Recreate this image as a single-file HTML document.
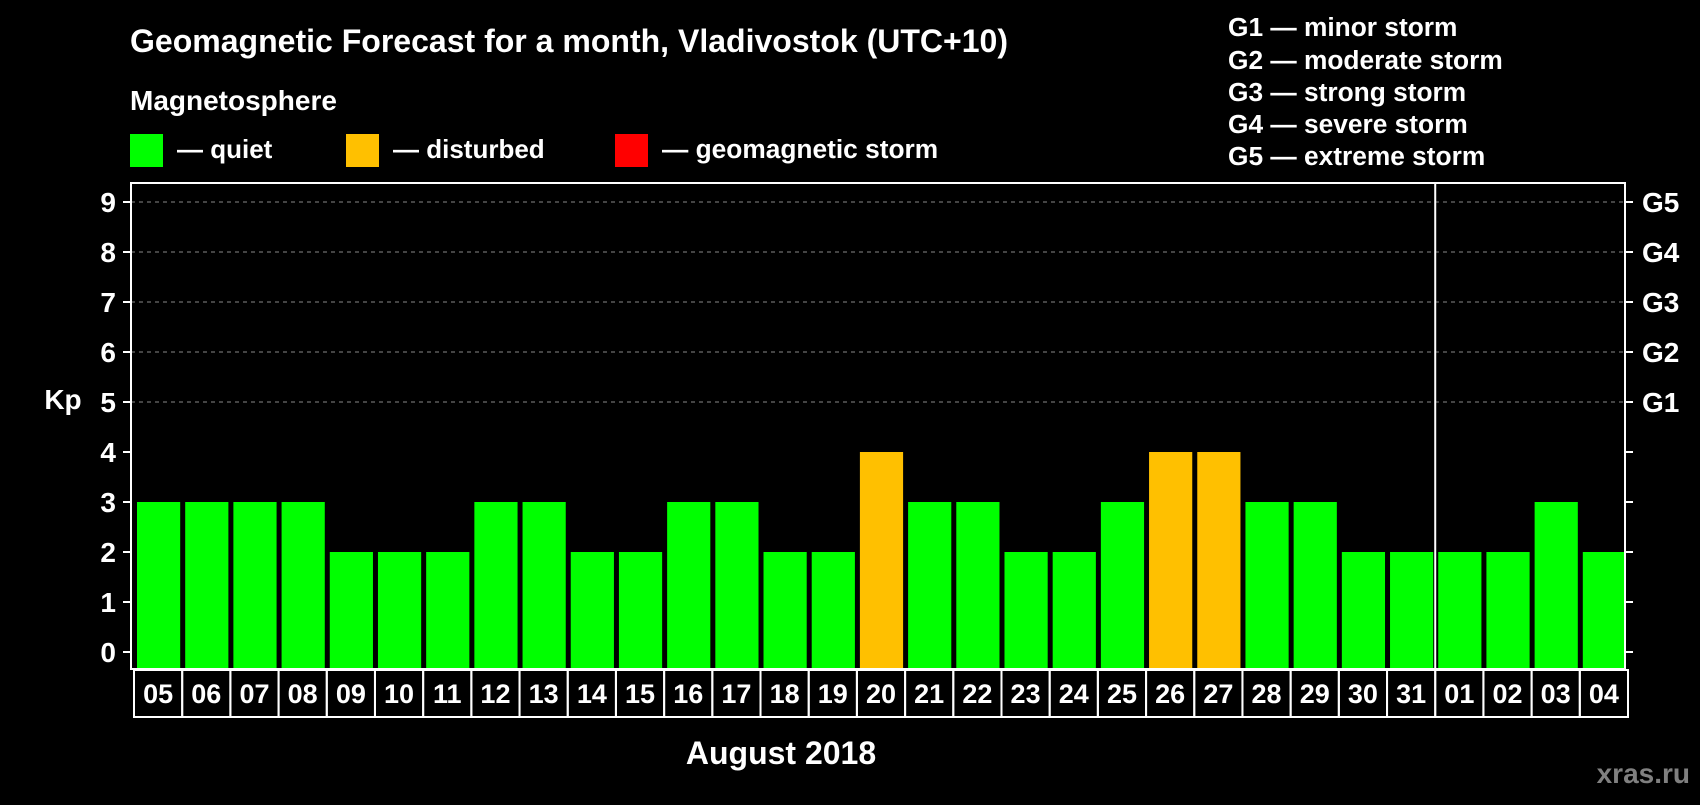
<!DOCTYPE html>
<html><head><meta charset="utf-8"><style>
body{margin:0;background:#000;width:1700px;height:800px;overflow:hidden}
svg text{font-family:"Liberation Sans",sans-serif;font-weight:bold;fill:#fff}
</style></head><body>
<svg id="c" width="1700" height="800">
<text x="130" y="52" font-size="32" textLength="878" lengthAdjust="spacingAndGlyphs">Geomagnetic Forecast for a month, Vladivostok (UTC+10)</text>
<text x="130" y="110" font-size="28">Magnetosphere</text>
<rect x="130" y="134" width="33" height="33" fill="#00ff00"/>
<text x="177" y="158" font-size="26">— quiet</text>
<rect x="346" y="134" width="33" height="33" fill="#ffc000"/>
<text x="393" y="158" font-size="26">— disturbed</text>
<rect x="615" y="134" width="33" height="33" fill="#ff0000"/>
<text x="662" y="158" font-size="26.3">— geomagnetic storm</text>
<g font-size="26.3">
<text x="1228" y="36">G1 — minor storm</text>
<text x="1228" y="69">G2 — moderate storm</text>
<text x="1228" y="101">G3 — strong storm</text>
<text x="1228" y="133">G4 — severe storm</text>
<text x="1228" y="165">G5 — extreme storm</text>
</g>
<text x="63" y="409" font-size="28" text-anchor="middle">Kp</text>
<text x="781" y="764" font-size="32" text-anchor="middle">August 2018</text>
<text x="1690" y="783" font-size="28" text-anchor="end" style="fill:#808080">xras.ru</text>
<g id="plot"></g>
</svg>
<script>
const days=["05","06","07","08","09","10","11","12","13","14","15","16","17","18","19","20","21","22","23","24","25","26","27","28","29","30","31","01","02","03","04"];
const kp=[3,3,3,3,2,2,2,3,3,2,2,3,3,2,2,4,3,3,2,2,3,4,4,3,3,2,2,2,2,3,2];
const yTicks=[0,1,2,3,4,5,6,7,8,9];
const gLabels=["","","","","","G1","G2","G3","G4","G5"];
const NS="http://www.w3.org/2000/svg";
const L=131,R=1625,T=183,B=669;
const pitch=(R-L)/days.length;
const y=v=>652-v*50;
const xs=i=>L+i*pitch;
const g=document.getElementById('plot');
function mk(t,a){const e=document.createElementNS(NS,t);for(const k in a)e.setAttribute(k,a[k]);g.appendChild(e);return e;}
yTicks.forEach((v,i)=>{
 if(v>=5){const l=mk('line',{x1:L,x2:R,y1:y(v),y2:y(v),stroke:'#888','stroke-dasharray':'4,4','stroke-width':1});
 
 }
 const t1=mk('line',{x1:L-8,x2:L,y1:y(v),y2:y(v),stroke:'#fff','stroke-width':2});
 
 
 const t2=mk('line',{x1:R,x2:R+8,y1:y(v),y2:y(v),stroke:'#fff','stroke-width':2});
 
 
 const lb=mk('text',{x:116,y:y(v)+10,'font-size':28,'text-anchor':'end'});lb.textContent=v;
 
 
 if(gLabels[i]){const gl=mk('text',{x:1642,y:y(v)+10,'font-size':28});gl.textContent=gLabels[i];
 
 }
});
kp.forEach((v,i)=>{
 const c=v>=5?'#ff0000':(v>=4?'#ffc000':'#00ff00');
 const r=mk('rect',{x:xs(i)+6,y:y(v),width:pitch-5,height:B-1-y(v),fill:c});
 
 
 const bx=mk('rect',{x:xs(i)+3,y:B+1,width:pitch,height:47,fill:'none',stroke:'#fff','stroke-width':2});
 
 
 const t=mk('text',{x:xs(i)+3+pitch/2,y:B+34,'font-size':27,'text-anchor':'middle'});t.textContent=days[i];
 
 
});
const fr=mk('rect',{x:L,y:T,width:R-L,height:B-T,fill:'none',stroke:'#fff','stroke-width':2});


const sep=days.indexOf("01");
const sl=mk('line',{x1:xs(sep)+3,x2:xs(sep)+3,y1:T,y2:B,stroke:'#fff','stroke-width':2});


</script>
</body></html>
